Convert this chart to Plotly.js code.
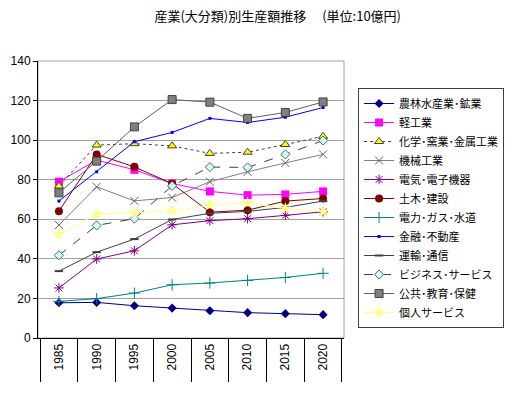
<!DOCTYPE html>
<html>
<head>
<meta charset="utf-8">
<script src="https://cdn.plot.ly/plotly-3.0.1.min.js"></script>
<style>html,body{margin:0;padding:0;background:#fff;}#chart{width:526px;height:393px;}</style>
</head>
<body>
<div id="chart"></div>
<script>
const years = ["1985","1990","1995","2000","2005","2010","2015","2020"];
const seriesNames = ["農林水産業･鉱業","軽工業","化学･窯業･金属工業","機械工業","電気･電子機器","土木･建設","電力･ガス･水道","金融･不動産","運輸･通信","ビジネス･サービス","公共･教育･保健","個人サービス"];
const agri      = [17.8, 18.0, 16.3, 15.1, 13.8, 12.8, 12.3, 11.8];
const light     = [79.0, 89.9, 85.0, 78.1, 74.1, 72.2, 72.6, 74.1];
const chem      = [76.8, 97.5, 98.2, 97.1, 93.3, 93.9, 97.8, 101.9];
const machine   = [57.1, 76.4, 69.3, 71.0, 79.0, 84.0, 88.5, 92.8];
const elec      = [25.3, 39.9, 44.1, 57.2, 59.3, 60.3, 62.0, 63.8];
const constr    = [64.1, 92.8, 86.5, 78.0, 63.6, 64.6, 69.2, 70.5];
const utility   = [18.5, 19.9, 22.7, 26.9, 27.8, 29.1, 30.6, 32.7];
const finance   = [69.2, 84.0, 99.2, 103.9, 111.0, 108.9, 111.6, 116.5];
const transport = [33.8, 43.4, 50.0, 59.9, 63.0, 64.0, 66.0, 69.2];
const business  = [41.8, 56.9, 60.3, 76.9, 86.4, 86.2, 92.8, 99.8];
const publicSvc = [73.4, 89.4, 106.7, 120.5, 119.2, 111.0, 114.0, 119.3];
const personal  = [52.4, 62.6, 63.3, 64.3, 67.2, 68.3, 65.5, 63.8];
const yTicks = [0, 20, 40, 60, 80, 100, 120, 140];

const values = [agri, light, chem, machine, elec, constr, utility, finance, transport, business, publicSvc, personal];
const styles = [
  {line:{color:"#000080",width:1}, marker:{symbol:"diamond",size:7,color:"#000080"}},
  {line:{color:"#FF00FF",width:1}, marker:{symbol:"square",size:8,color:"#FF00FF"}},
  {line:{color:"#404040",width:1,dash:"dot"}, marker:{symbol:"triangle-up",size:8,color:"#FFFF00",line:{color:"#404040",width:1}}},
  {line:{color:"#808080",width:1}, marker:{symbol:"x-thin-open",size:8,color:"#606060",line:{color:"#606060",width:1}}},
  {line:{color:"#800080",width:1}, marker:{symbol:"asterisk-open",size:8,color:"#800080",line:{color:"#800080",width:1}}},
  {line:{color:"#800000",width:1}, marker:{symbol:"circle",size:8,color:"#800000"}},
  {line:{color:"#008080",width:1}, marker:{symbol:"cross-thin-open",size:8,color:"#008080",line:{color:"#008080",width:1}}},
  {line:{color:"#0000FF",width:1}, marker:{symbol:"square",size:3,color:"#0000FF"}},
  {line:{color:"#404040",width:1}, marker:{symbol:"line-ew-open",size:6,color:"#404040",line:{color:"#404040",width:2}}},
  {line:{color:"#404040",width:1,dash:"dash"}, marker:{symbol:"diamond",size:7,color:"#CCFFFF",line:{color:"#606060",width:1}}},
  {line:{color:"#606060",width:1}, marker:{symbol:"square",size:8,color:"#808080",line:{color:"#404040",width:1}}},
  {line:{color:"#FFFF99",width:1}, marker:{symbol:"star",size:9,color:"#FFFF80"}}
];

const traces = seriesNames.map((n, i) => Object.assign({
  type: "scatter", mode: "lines+markers", name: n, x: years, y: values[i], cliponaxis: false
}, styles[i]));

const font = "Liberation Sans, Arial, 'Noto Sans CJK JP', sans-serif";
const layout = {
  width: 526, height: 393,
  margin: {l: 38, r: 182, t: 61, b: 55},
  paper_bgcolor: "#fff", plot_bgcolor: "#fff",
  font: {family: font, size: 11, color: "#000"},
  title: {text: "産業(大分類)別生産額推移　 (単位:10億円)", x: 0.528, xanchor: "center", y: 0.957, yanchor: "middle", font: {family: "'Noto Sans CJK JP', sans-serif", size: 13}},
  xaxis: {
    type: "category", showgrid: false, showline: true, linecolor: "#000", linewidth: 1,
    ticks: "outside", tickson: "boundaries", ticklen: 43, tickcolor: "#000", tickwidth: 1,
    tickangle: -90, ticklabelstandoff: 0, tickfont: {size: 12}
  },
  yaxis: {
    range: [0, 140], tickvals: yTicks, showgrid: true, gridcolor: "#A0A0A0", gridwidth: 1,
    showline: true, linecolor: "#000", ticks: "outside", ticklen: 4, tickcolor: "#000",
    zeroline: false, tickfont: {size: 12}
  },
  shapes: [{type: "rect", xref: "paper", yref: "paper", x0: 0, x1: 1, y0: 0, y1: 1, line: {color: "#A0A0A0", width: 1}, layer: "below"}],
  legend: {
    x: 1.046, y: 0.9025, xanchor: "left", yanchor: "top",
    bordercolor: "#404040", borderwidth: 1, bgcolor: "#fff",
    font: {family: "'Noto Sans CJK JP', sans-serif", size: 11}, tracegroupgap: 0
  },
  showlegend: true
};
Plotly.newPlot("chart", traces, layout, {displayModeBar: false, staticPlot: true});
</script>
</body>
</html>
